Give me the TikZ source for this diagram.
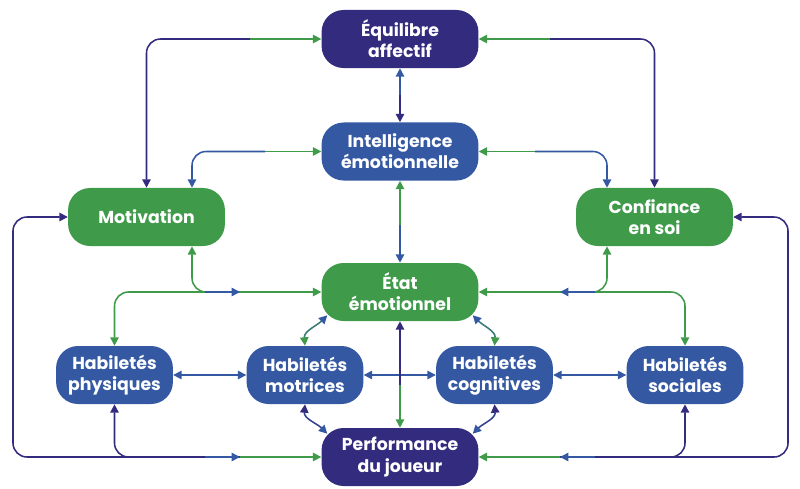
\documentclass[tikz,border=0pt]{standalone}
\usepackage{fontspec}
\setmainfont{Poppins}
\usetikzlibrary{positioning,arrows.meta}
\usepackage{xcolor}

\definecolor{purp}{RGB}{50,43,126}
\definecolor{blu}{RGB}{52,89,162}
\definecolor{grn}{RGB}{63,155,74}

\tikzset{
  box/.style={rounded corners=0.55cm, minimum height=1.45cm, text=white, align=center, inner sep=0pt, font=\bfseries\fontsize{12.3}{15}\selectfont},
  widebox/.style={box, minimum width=3.92cm},
  skillbox/.style={box, minimum width=2.92cm},
  lnk/.style={line width=1.1pt, rounded corners=0.35cm},
  tP/.tip={Triangle[length=6pt,width=6pt,color=purp]},
  tB/.tip={Triangle[length=6pt,width=6pt,color=blu]},
  tG/.tip={Triangle[length=6pt,width=6pt,color=grn]}
}

\begin{document}
\begin{tikzpicture}[x=0.025cm, y=-0.025cm]

\useasboundingbox (0,0) rectangle (800,488);

\node[widebox, fill=purp] (equ) at (400,39) {Équilibre\\affectif};
\node[widebox, fill=blu] (int) at (400,151.5) {Intelligence\\émotionnelle};
\node[widebox, fill=grn] (mot) at (146.5,217) {Motivation};
\node[widebox, fill=grn] (conf) at (654.5,217) {Confiance\\en soi};
\node[widebox, fill=grn] (etat) at (400,292) {État\\émotionnel};
\node[skillbox, fill=blu] (hphy) at (114.5,375) {Habiletés\\physiques};
\node[skillbox, fill=blu] (hmot) at (305,375) {Habiletés\\motrices};
\node[skillbox, fill=blu] (hcog) at (494.5,375) {Habiletés\\cognitives};
\node[skillbox, fill=blu] (hsoc) at (685,375) {Habiletés\\sociales};
\node[widebox, fill=purp] (perf) at (400,457) {Performance\\du joueur};

\coordinate (tl) at (250,39);
\coordinate (tr) at (550,39);
\coordinate (ei) at (400,95);
\coordinate (il) at (265,151.5);
\coordinate (ir) at (535,151.5);
\coordinate (ie) at (400,225);
\coordinate (pe) at (240,292);
\coordinate (se) at (560,292);
\coordinate (pp) at (240,457);
\coordinate (sp) at (560,457);
\coordinate (ol) at (13,457);
\coordinate (or) at (788,457);
\coordinate (ep) at (400,385);

% top
\draw[lnk, purp, {tP}-] (mot.north) |- (tl);
\draw[lnk, grn, -{tG}] (tl) -- (equ.west);
\draw[lnk, purp, {tP}-] (conf.north) |- (tr);
\draw[lnk, grn, -{tG}] (tr) -- (equ.east);

\draw[lnk, blu, {tB}-] (equ.south) -- (ei);
\draw[lnk, purp, -{tP}] (ei) -- (int.north);

\draw[lnk, blu, {tB}-] ([shift={(45.5,0)}]mot.north) |- (il);
\draw[lnk, grn, -{tG}] (il) -- (int.west);
\draw[lnk, blu, {tB}-] ([shift={(-47.5,0)}]conf.north) |- (ir);
\draw[lnk, grn, -{tG}] (ir) -- (int.east);

\draw[lnk, grn, {tG}-] (int.south) -- (ie);
\draw[lnk, blu, -{tB}] (ie) -- (etat.north);

% around etat
\draw[lnk, grn, {tG}-{tG}] ([shift={(45.5,0)}]mot.south) |- (etat.west);
\draw[lnk, grn, {tG}-{tG}] ([shift={(-47.5,0)}]conf.south) |- (etat.east);

\draw[lnk, grn, {tG}-] (hphy.north) |- ([shift={(-35,0)}]pe);
\draw[lnk, blu, -{tB}] ([shift={(-35,0)}]pe) -- (pe);
\draw[lnk, grn, {tG}-] (hsoc.north) |- ([shift={(35,0)}]se);
\draw[lnk, blu, -{tB}] ([shift={(35,0)}]se) -- (se);

% outer loops
\draw[lnk, purp, {tP}-] (mot.west) -| (ol) -- (pp);
\draw[lnk, grn, -{tG}] (pp) -- (perf.west);
\draw[lnk, purp, {tP}-] (conf.east) -| (or) -- (sp);
\draw[lnk, grn, -{tG}] (sp) -- (perf.east);

\draw[lnk, purp, {tP}-] (hphy.south) |- ([shift={(-35,0)}]pp);
\draw[lnk, blu, -{tB}] ([shift={(-35,0)}]pp) -- (pp);
\draw[lnk, purp, {tP}-] (hsoc.south) |- ([shift={(35,0)}]sp);
\draw[lnk, blu, -{tB}] ([shift={(35,0)}]sp) -- (sp);

% skills
\draw[lnk, blu, {tB}-{tB}] (hphy.east) -- (hmot.west);
\draw[lnk, blu, {tB}-{tB}] (hmot.east) -- (hcog.west);
\draw[lnk, blu, {tB}-{tB}] (hcog.east) -- (hsoc.west);

\draw[lnk, purp, {tP}-] (etat.south) -- (ep);
\draw[lnk, grn, -{tG}] (ep) -- (perf.north);

\draw[lnk, grn!50!blu, {tG}-{tB}] (hmot.north) to[out=95, in=-135] ([shift={(6,-6)}]etat.south west);
\draw[lnk, grn!50!blu, {tG}-{tB}] (hcog.north) to[out=85, in=-45] ([shift={(-6,-6)}]etat.south east);
\draw[lnk, purp!50!blu, {tP}-{tB}] (hmot.south) to[out=-95, in=135] ([shift={(6,6)}]perf.north west);
\draw[lnk, purp!50!blu, {tP}-{tB}] (hcog.south) to[out=-85, in=45] ([shift={(-6,6)}]perf.north east);

\end{tikzpicture}
\end{document}
